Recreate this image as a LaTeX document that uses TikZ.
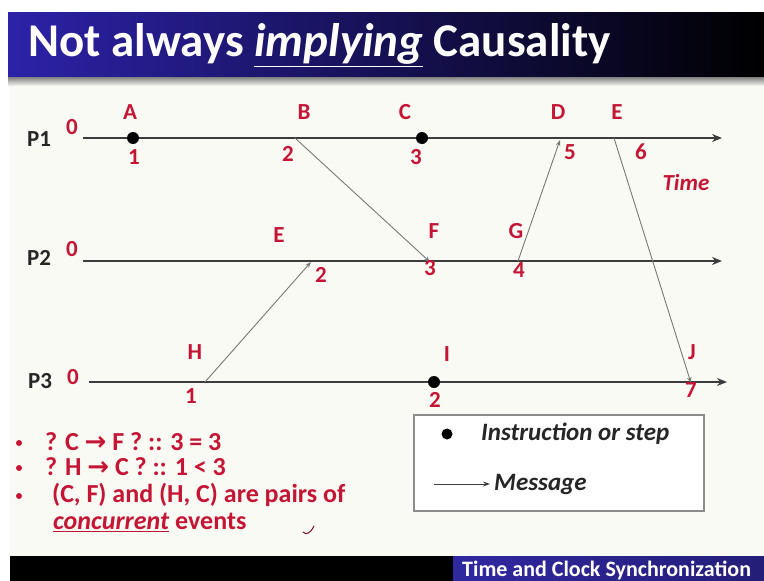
\documentclass[tikz,border=0pt]{standalone}
\usepackage{fontspec}
\setmainfont{Carlito}
\newfontfamily\symfont{DejaVu Sans}
\usetikzlibrary{arrows.meta}
\definecolor{slideRed}{RGB}{196,22,52}
\definecolor{slideBg}{RGB}{250,250,244}
\definecolor{titleBlue}{RGB}{44,34,168}
\definecolor{botBlue}{RGB}{48,40,160}
\definecolor{lineGray}{RGB}{60,60,60}
\definecolor{msgGray}{RGB}{120,120,120}
\begin{document}
\begin{tikzpicture}[x=1pt,y=-1pt,
  lab/.style={text=slideRed, font=\bfseries\fontsize{23}{23}\selectfont, inner sep=0pt},
  proc/.style={text=black!85, font=\bfseries\fontsize{23}{23}\selectfont, inner sep=0pt},
  tline/.style={draw=lineGray, line width=2.4pt, -{Stealth[length=10pt,width=8pt]}},
  msg/.style={draw=msgGray, line width=0.9pt, -{Stealth[length=6pt,width=4.5pt]}},
  evdot/.style={circle, fill=black, inner sep=0pt, minimum size=12pt},
  bul/.style={anchor=west, text=slideRed, font=\bfseries\fontsize{26}{26}\selectfont, inner sep=0pt},
  bdot/.style={circle, fill=slideRed, inner sep=0pt, minimum size=6pt},
  legtext/.style={anchor=west, text=black!85, font=\bfseries\itshape\fontsize{25}{25}\selectfont, inner sep=0pt}
]
\useasboundingbox (0,0) rectangle (764,581);
\fill[white] (0,0) rectangle (764,581);
\fill[slideBg] (10,12) rectangle (764,556);
% title bar
\shade[left color=titleBlue, right color=black] (8,12) rectangle (764,77);
\shade[top color=black!50, bottom color=slideBg] (8,77) rectangle (764,86);
\node[anchor=west, text=white, inner sep=0pt, font=\bfseries\fontsize{47}{47}\selectfont] (title) at (28,45) {Not always \underline{\textit{implying}} Causality};
% bottom bar
\fill[black] (10,556) rectangle (764,581);
\shade[left color=botBlue, right color=botBlue!75!black] (453,556) rectangle (764,581);
\node[anchor=west, text=white, inner sep=0pt, font=\bfseries\fontsize{22}{22}\selectfont] (footer) at (462,570) {Time and Clock Synchronization};

% timelines
\coordinate (p1s) at (83,138); \coordinate (p1e) at (722,138);
\coordinate (p2s) at (83,261); \coordinate (p2e) at (722,261);
\coordinate (p3s) at (89,382); \coordinate (p3e) at (727,382);
\draw[tline] (p1s) -- (p1e);
\draw[tline] (p2s) -- (p2e);
\draw[tline] (p3s) -- (p3e);

% process labels
\node[proc] (P1) at (39,139) {P1}; \node[lab] (z1) at (72,127) {0};
\node[proc] (P2) at (39,258) {P2}; \node[lab] (z2) at (72,249) {0};
\node[proc] (P3) at (40,381) {P3}; \node[lab] (z3) at (73,377) {0};

% events
\node[evdot] (A) at (133,138) {};
\coordinate (B) at (295,138);
\node[evdot] (C) at (422,138) {};
\coordinate (D) at (560,140);
\coordinate (E1) at (614,138);
\coordinate (E2) at (311,262);
\coordinate (F) at (430,262);
\coordinate (G) at (518,261);
\coordinate (H) at (205,382);
\node[evdot] (I) at (434,382) {};
\coordinate (J) at (691,383);

% messages
\draw[msg] (B) -- (F);
\draw[msg] (H) -- (E2);
\draw[msg] (G) -- (D);
\draw[msg] (E1) -- (J);

% event labels
\node[lab] (lA) at (130,112) {A}; \node[lab] (nA) at (134,157) {1};
\node[lab] (lB) at (304,112) {B}; \node[lab] (nB) at (288,154) {2};
\node[lab] (lC) at (405,112) {C}; \node[lab] (nC) at (416,157) {3};
\node[lab] (lD) at (558,112) {D}; \node[lab] (nD) at (570,152) {5};
\node[lab] (lE1) at (617,112) {E}; \node[lab] (nE1) at (641,152) {6};
\node[lab, font=\bfseries\itshape\fontsize{23}{23}\selectfont] (time) at (686,183) {Time};
\node[lab] (lE2) at (279,235) {E}; \node[lab] (nE2) at (321,275) {2};
\node[lab] (lF) at (434,231) {F}; \node[lab] (nF) at (430,268) {3};
\node[lab] (lG) at (516,231) {G}; \node[lab] (nG) at (519,270) {4};
\node[lab] (lH) at (195,352) {H}; \node[lab] (nH) at (191,396) {1};
\node[lab] (lI) at (447,354) {I}; \node[lab] (nI) at (435,400) {2};
\node[lab] (lJ) at (692,352) {J}; \node[lab] (nJ) at (691,390) {7};

% legend
\node[draw=black!45, line width=1.2pt, fill=white, minimum width=290pt, minimum height=96pt, inner sep=0pt] (legend) at (559,463) {};
\node[circle, fill=black, inner sep=0pt, minimum size=11pt] (ldot) at (447,434) {};
\node[legtext] (linstr) at (481,434) {Instruction or step};
\coordinate (la1) at (434,484);
\node[legtext] (lmsg) at (494,484) {Message};
\draw[draw=black!75, line width=0.9pt, -{Stealth[length=7pt,width=5pt]}] (la1) -- ([xshift=-4pt]lmsg.west);

% bullets
\node[bdot] (b1) at (19,443) {}; \node[bul] (t1) at (45,442) {? C {\symfont\bfseries →} F ? :: 3 = 3};
\node[bdot] (b2) at (19,468) {}; \node[bul] (t2) at (45,467) {? H {\symfont\bfseries →} C ? :: 1 < 3};
\node[bdot] (b3) at (19,496) {}; \node[bul] (t3) at (52,495) {(C, F) and (H, C) are pairs of};
\node[bul] (t4) at (53,522) {\underline{\textit{concurrent}} events};
\draw[draw=slideRed!60!black, line width=1pt, line cap=round] (303,532) .. controls (306,535) and (310,534) .. (314,526);
\end{tikzpicture}
\end{document}
